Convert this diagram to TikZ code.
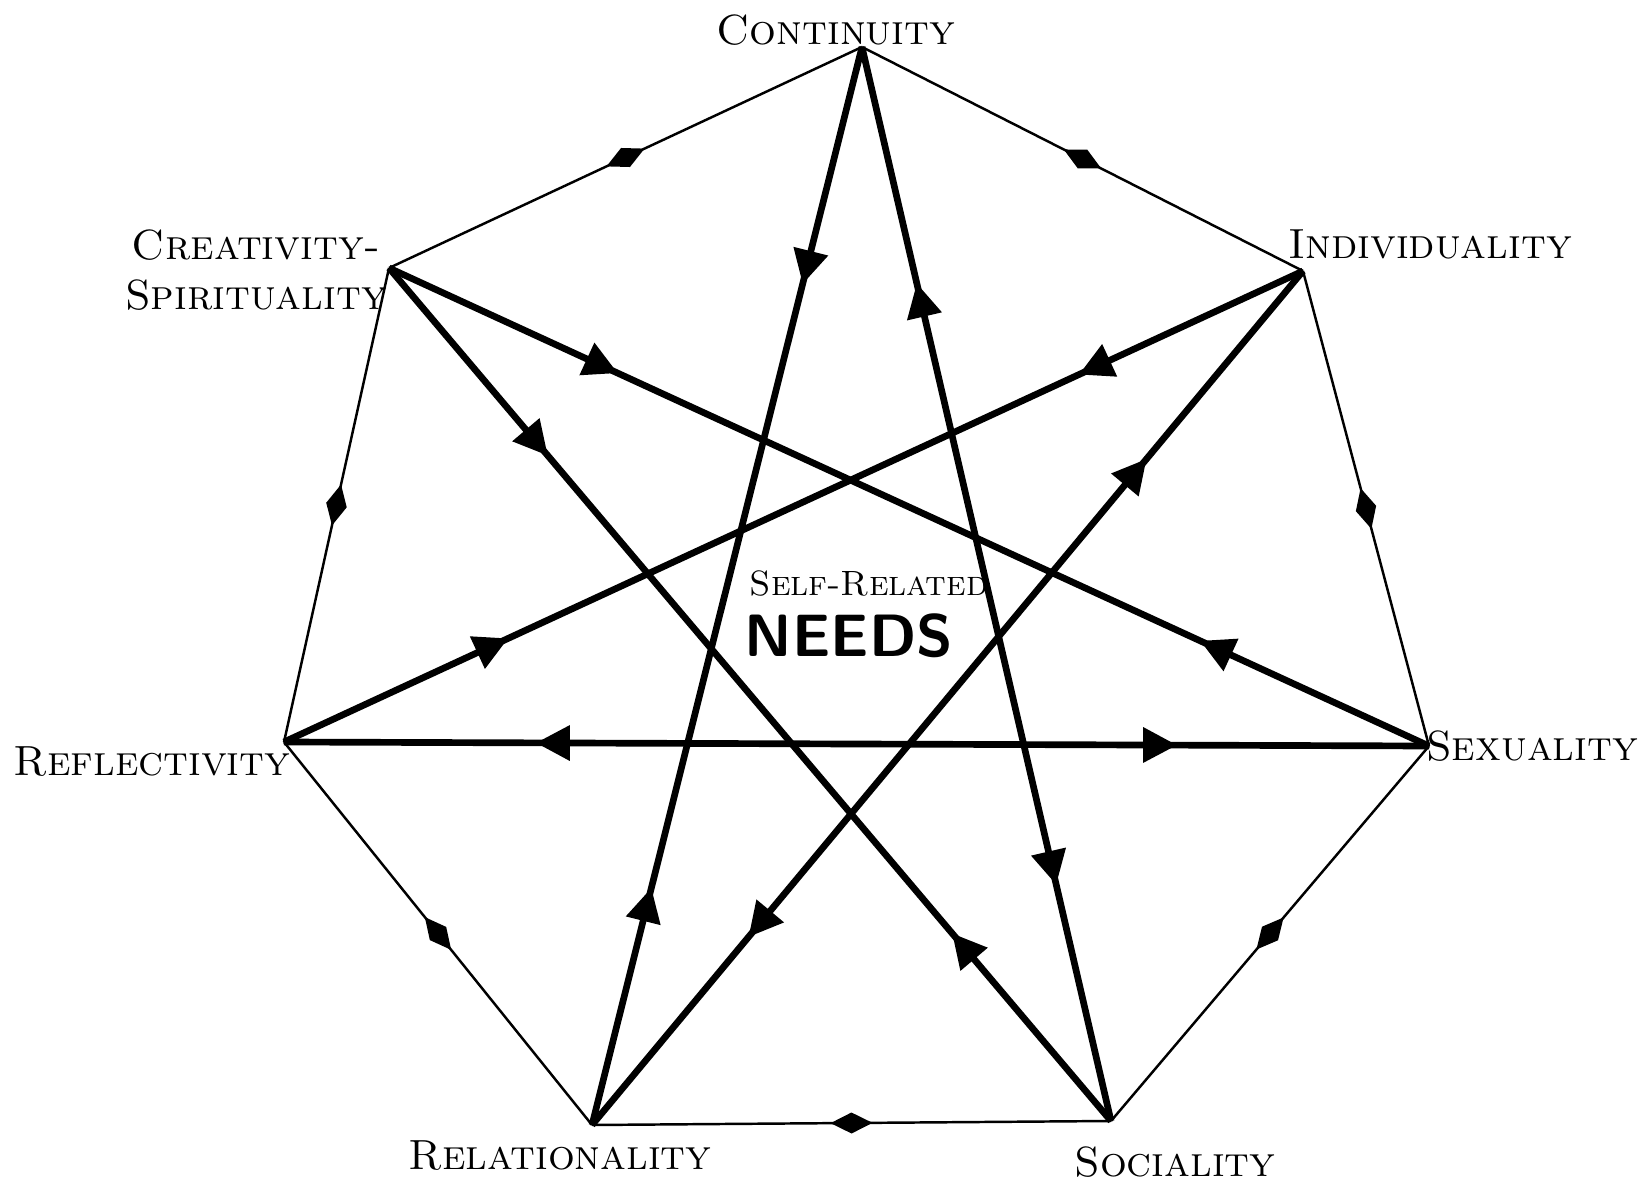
\documentclass[tikz,border=0pt]{standalone}
\usepackage{tikz}
\usetikzlibrary{arrows.meta,decorations.markings,positioning}

\tikzset{
  rim/.style={line width=0.7pt, postaction={decorate},
    decoration={markings, mark=at position 0.5 with {\fill (-2.1mm,0) -- (0,1.05mm) -- (2.1mm,0) -- (0,-1.05mm) -- cycle;}}},
  inward/.style={line width=1.9pt, postaction={decorate},
    decoration={markings,
      mark=at position 0.22 with {\arrow{Triangle[length=3.4mm,width=3.4mm]}},
      mark=at position 0.78 with {\arrowreversed{Triangle[length=3.4mm,width=3.4mm]}}}},
  outward/.style={line width=1.9pt, postaction={decorate},
    decoration={markings,
      mark=at position 0.22 with {\arrowreversed{Triangle[length=3.4mm,width=3.4mm]}},
      mark=at position 0.78 with {\arrow{Triangle[length=3.4mm,width=3.4mm]}}}},
  need/.style={font=\fontsize{12}{14}\selectfont\scshape, inner sep=1pt}
}

\begin{document}
\begin{tikzpicture}
    \useasboundingbox (0,0) rectangle (16.48,-11.84);

    % Corners of the heptagon
    \coordinate (cont) at (8.62,-0.47);
    \coordinate (ind)  at (13.03,-2.71);
    \coordinate (sex)  at (14.29,-7.46);
    \coordinate (soc)  at (11.11,-11.21);
    \coordinate (rel)  at (5.92,-11.25);
    \coordinate (refl) at (2.84,-7.42);
    \coordinate (cre)  at (3.89,-2.68);

    % Outer heptagon
    \foreach \a/\b in {cont/ind, ind/sex, sex/soc, soc/rel, rel/refl, refl/cre, cre/cont} {
      \draw[rim] (\a) -- (\b);
    }

    % Star
    \foreach \a/\b in {cont/rel, ind/refl, cre/sex, cre/soc} {
      \draw[inward] (\a) -- (\b);
    }
    \foreach \a/\b in {cont/soc, ind/rel, refl/sex} {
      \draw[outward] (\a) -- (\b);
    }

    % Labels
    \node[need] (lcont) at (8.36,-0.30) {Continuity};
    \node[need] (lind) at (14.30,-2.44) {Individuality};
    \node[need, align=center] (lcre) at (2.56,-2.70) {Creativity-\\Spirituality};
    \node[need] (lrefl) at (1.52,-7.62) {Reflectivity};
    \node[need] (lsex) at (15.32,-7.46) {Sexuality};
    \node[need] (lrel) at (5.60,-11.56) {Relationality};
    \node[need] (lsoc) at (11.75,-11.62) {Sociality};

    % Centre
    \node[font=\fontsize{10}{12}\selectfont\scshape] (lself) at (8.69,-5.83) {Self-Related};
    \node[font=\fontsize{17}{19}\selectfont\sffamily\bfseries] (lneeds) at (8.49,-6.36) {NEEDS};
\end{tikzpicture}
\end{document}
